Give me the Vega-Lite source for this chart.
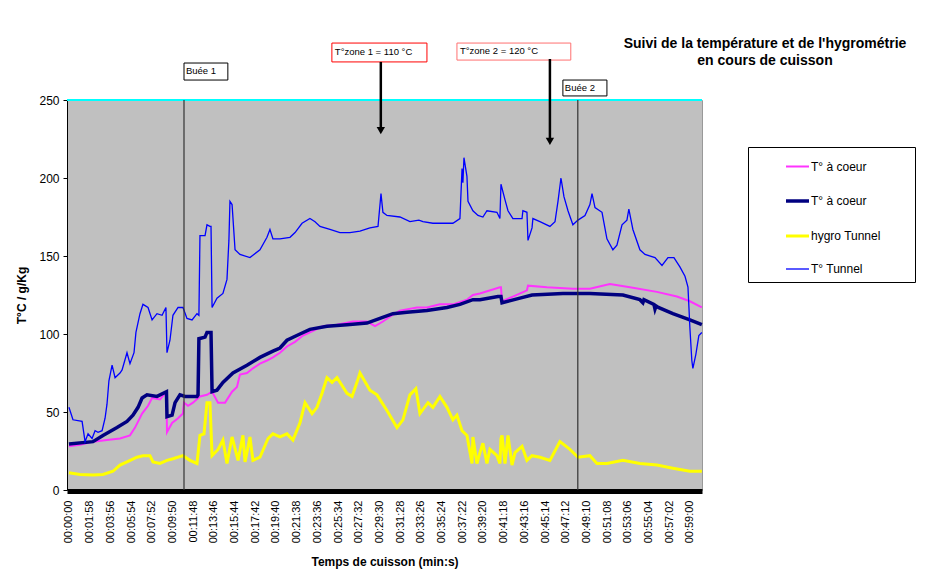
{
  "$schema": "https://vega.github.io/schema/vega-lite/v6.json",
  "width": 635,
  "height": 390,
  "autosize": {"type": "none"},
  "padding": {"left": 67, "top": 100, "right": 230, "bottom": 92},
  "background": "#FFFFFF",
  "title": {
    "text": ["Suivi de la température et de l'hygrométrie", "en cours de cuisson"],
    "anchor": "start",
    "frame": "group",
    "align": "center",
    "dx": 698,
    "dy": 59,
    "offset": 34,
    "fontSize": 14,
    "lineHeight": 17,
    "font": "Liberation Sans",
    "fontWeight": "bold",
    "color": "#000000"
  },
  "datasets": {
    "series": [
      {"t":0,"s":"T° à coeur 1","v":28},{"t":63,"s":"T° à coeur 1","v":29},{"t":137,"s":"T° à coeur 1","v":31},{"t":217,"s":"T° à coeur 1","v":32},{"t":291,"s":"T° à coeur 1","v":33},{"t":348,"s":"T° à coeur 1","v":35},{"t":377,"s":"T° à coeur 1","v":40},{"t":417,"s":"T° à coeur 1","v":49},{"t":451,"s":"T° à coeur 1","v":54},{"t":474,"s":"T° à coeur 1","v":59},{"t":519,"s":"T° à coeur 1","v":58},{"t":548,"s":"T° à coeur 1","v":62},{"t":556,"s":"T° à coeur 1","v":62},{"t":559,"s":"T° à coeur 1","v":37},{"t":588,"s":"T° à coeur 1","v":43},{"t":622,"s":"T° à coeur 1","v":46},{"t":650,"s":"T° à coeur 1","v":49},{"t":656,"s":"T° à coeur 1","v":56},{"t":679,"s":"T° à coeur 1","v":54},{"t":707,"s":"T° à coeur 1","v":56},{"t":747,"s":"T° à coeur 1","v":60},{"t":787,"s":"T° à coeur 1","v":61},{"t":816,"s":"T° à coeur 1","v":63},{"t":850,"s":"T° à coeur 1","v":56},{"t":890,"s":"T° à coeur 1","v":56},{"t":930,"s":"T° à coeur 1","v":63},{"t":958,"s":"T° à coeur 1","v":66},{"t":975,"s":"T° à coeur 1","v":74},{"t":1015,"s":"T° à coeur 1","v":75},{"t":1049,"s":"T° à coeur 1","v":78},{"t":1089,"s":"T° à coeur 1","v":81},{"t":1129,"s":"T° à coeur 1","v":83},{"t":1163,"s":"T° à coeur 1","v":85},{"t":1203,"s":"T° à coeur 1","v":88},{"t":1243,"s":"T° à coeur 1","v":92},{"t":1289,"s":"T° à coeur 1","v":95},{"t":1334,"s":"T° à coeur 1","v":99},{"t":1374,"s":"T° à coeur 1","v":101},{"t":1448,"s":"T° à coeur 1","v":105},{"t":1528,"s":"T° à coeur 1","v":106},{"t":1619,"s":"T° à coeur 1","v":108},{"t":1699,"s":"T° à coeur 1","v":108},{"t":1745,"s":"T° à coeur 1","v":105},{"t":1790,"s":"T° à coeur 1","v":108},{"t":1842,"s":"T° à coeur 1","v":112},{"t":1887,"s":"T° à coeur 1","v":115},{"t":1984,"s":"T° à coeur 1","v":117},{"t":2041,"s":"T° à coeur 1","v":117},{"t":2115,"s":"T° à coeur 1","v":119},{"t":2189,"s":"T° à coeur 1","v":119},{"t":2269,"s":"T° à coeur 1","v":122},{"t":2303,"s":"T° à coeur 1","v":125},{"t":2343,"s":"T° à coeur 1","v":126},{"t":2457,"s":"T° à coeur 1","v":130},{"t":2463,"s":"T° à coeur 1","v":130},{"t":2469,"s":"T° à coeur 1","v":121},{"t":2531,"s":"T° à coeur 1","v":124},{"t":2611,"s":"T° à coeur 1","v":128},{"t":2617,"s":"T° à coeur 1","v":131},{"t":2725,"s":"T° à coeur 1","v":130},{"t":2873,"s":"T° à coeur 1","v":129},{"t":2970,"s":"T° à coeur 1","v":129},{"t":3084,"s":"T° à coeur 1","v":132},{"t":3198,"s":"T° à coeur 1","v":130},{"t":3352,"s":"T° à coeur 1","v":127},{"t":3466,"s":"T° à coeur 1","v":124},{"t":3540,"s":"T° à coeur 1","v":121},{"t":3608,"s":"T° à coeur 1","v":117},

      {"t":0,"s":"T° à coeur 2","v":29.5},{"t":137,"s":"T° à coeur 2","v":31},{"t":194,"s":"T° à coeur 2","v":35},{"t":274,"s":"T° à coeur 2","v":40},{"t":331,"s":"T° à coeur 2","v":44},{"t":365,"s":"T° à coeur 2","v":48},{"t":394,"s":"T° à coeur 2","v":53},{"t":417,"s":"T° à coeur 2","v":59},{"t":445,"s":"T° à coeur 2","v":61},{"t":502,"s":"T° à coeur 2","v":60},{"t":556,"s":"T° à coeur 2","v":63},{"t":559,"s":"T° à coeur 2","v":47},{"t":588,"s":"T° à coeur 2","v":48},{"t":605,"s":"T° à coeur 2","v":56},{"t":633,"s":"T° à coeur 2","v":61},{"t":662,"s":"T° à coeur 2","v":60},{"t":730,"s":"T° à coeur 2","v":60},{"t":736,"s":"T° à coeur 2","v":61},{"t":741,"s":"T° à coeur 2","v":97},{"t":776,"s":"T° à coeur 2","v":98},{"t":787,"s":"T° à coeur 2","v":101},{"t":810,"s":"T° à coeur 2","v":101},{"t":816,"s":"T° à coeur 2","v":63},{"t":844,"s":"T° à coeur 2","v":64},{"t":878,"s":"T° à coeur 2","v":69},{"t":935,"s":"T° à coeur 2","v":75},{"t":1015,"s":"T° à coeur 2","v":80},{"t":1089,"s":"T° à coeur 2","v":85},{"t":1163,"s":"T° à coeur 2","v":89},{"t":1203,"s":"T° à coeur 2","v":91},{"t":1243,"s":"T° à coeur 2","v":96},{"t":1317,"s":"T° à coeur 2","v":100},{"t":1374,"s":"T° à coeur 2","v":103},{"t":1471,"s":"T° à coeur 2","v":105},{"t":1585,"s":"T° à coeur 2","v":106},{"t":1699,"s":"T° à coeur 2","v":107},{"t":1773,"s":"T° à coeur 2","v":110},{"t":1847,"s":"T° à coeur 2","v":113},{"t":1927,"s":"T° à coeur 2","v":114},{"t":2041,"s":"T° à coeur 2","v":115},{"t":2155,"s":"T° à coeur 2","v":117},{"t":2229,"s":"T° à coeur 2","v":119},{"t":2303,"s":"T° à coeur 2","v":122},{"t":2343,"s":"T° à coeur 2","v":122},{"t":2446,"s":"T° à coeur 2","v":124},{"t":2463,"s":"T° à coeur 2","v":124},{"t":2469,"s":"T° à coeur 2","v":120},{"t":2571,"s":"T° à coeur 2","v":123},{"t":2640,"s":"T° à coeur 2","v":125},{"t":2816,"s":"T° à coeur 2","v":126},{"t":2970,"s":"T° à coeur 2","v":126},{"t":3158,"s":"T° à coeur 2","v":125},{"t":3255,"s":"T° à coeur 2","v":122},{"t":3272,"s":"T° à coeur 2","v":120},{"t":3278,"s":"T° à coeur 2","v":122},{"t":3335,"s":"T° à coeur 2","v":119},{"t":3341,"s":"T° à coeur 2","v":116},{"t":3347,"s":"T° à coeur 2","v":118},{"t":3360,"s":"T° à coeur 2","v":117},{"t":3443,"s":"T° à coeur 2","v":113},{"t":3540,"s":"T° à coeur 2","v":109},{"t":3608,"s":"T° à coeur 2","v":106},

      {"t":0,"s":"hygro Tunnel","v":11},{"t":63,"s":"hygro Tunnel","v":10},{"t":137,"s":"hygro Tunnel","v":9.6},{"t":194,"s":"hygro Tunnel","v":10},{"t":251,"s":"hygro Tunnel","v":12},{"t":291,"s":"hygro Tunnel","v":16},{"t":331,"s":"hygro Tunnel","v":18},{"t":388,"s":"hygro Tunnel","v":21},{"t":422,"s":"hygro Tunnel","v":22},{"t":462,"s":"hygro Tunnel","v":22},{"t":479,"s":"hygro Tunnel","v":18},{"t":519,"s":"hygro Tunnel","v":17},{"t":559,"s":"hygro Tunnel","v":19},{"t":593,"s":"hygro Tunnel","v":20},{"t":650,"s":"hygro Tunnel","v":22},{"t":690,"s":"hygro Tunnel","v":19},{"t":730,"s":"hygro Tunnel","v":17},{"t":747,"s":"hygro Tunnel","v":35},{"t":770,"s":"hygro Tunnel","v":36},{"t":787,"s":"hygro Tunnel","v":56},{"t":804,"s":"hygro Tunnel","v":56},{"t":816,"s":"hygro Tunnel","v":22},{"t":850,"s":"hygro Tunnel","v":26},{"t":878,"s":"hygro Tunnel","v":32},{"t":901,"s":"hygro Tunnel","v":17},{"t":930,"s":"hygro Tunnel","v":34},{"t":964,"s":"hygro Tunnel","v":19},{"t":992,"s":"hygro Tunnel","v":35},{"t":1004,"s":"hygro Tunnel","v":18},{"t":1032,"s":"hygro Tunnel","v":34},{"t":1049,"s":"hygro Tunnel","v":19},{"t":1089,"s":"hygro Tunnel","v":21},{"t":1135,"s":"hygro Tunnel","v":33},{"t":1163,"s":"hygro Tunnel","v":36},{"t":1203,"s":"hygro Tunnel","v":34},{"t":1243,"s":"hygro Tunnel","v":36},{"t":1277,"s":"hygro Tunnel","v":32},{"t":1317,"s":"hygro Tunnel","v":43},{"t":1346,"s":"hygro Tunnel","v":56},{"t":1386,"s":"hygro Tunnel","v":49},{"t":1414,"s":"hygro Tunnel","v":53},{"t":1443,"s":"hygro Tunnel","v":62},{"t":1471,"s":"hygro Tunnel","v":72},{"t":1500,"s":"hygro Tunnel","v":69},{"t":1528,"s":"hygro Tunnel","v":72},{"t":1557,"s":"hygro Tunnel","v":67},{"t":1585,"s":"hygro Tunnel","v":62},{"t":1614,"s":"hygro Tunnel","v":60},{"t":1642,"s":"hygro Tunnel","v":69},{"t":1659,"s":"hygro Tunnel","v":75},{"t":1716,"s":"hygro Tunnel","v":64},{"t":1756,"s":"hygro Tunnel","v":61},{"t":1813,"s":"hygro Tunnel","v":51},{"t":1870,"s":"hygro Tunnel","v":40},{"t":1904,"s":"hygro Tunnel","v":45},{"t":1944,"s":"hygro Tunnel","v":61},{"t":1978,"s":"hygro Tunnel","v":65},{"t":2001,"s":"hygro Tunnel","v":49},{"t":2047,"s":"hygro Tunnel","v":56},{"t":2075,"s":"hygro Tunnel","v":53},{"t":2115,"s":"hygro Tunnel","v":60},{"t":2155,"s":"hygro Tunnel","v":53},{"t":2189,"s":"hygro Tunnel","v":45},{"t":2212,"s":"hygro Tunnel","v":48},{"t":2241,"s":"hygro Tunnel","v":38},{"t":2269,"s":"hygro Tunnel","v":35},{"t":2298,"s":"hygro Tunnel","v":17},{"t":2303,"s":"hygro Tunnel","v":34},{"t":2326,"s":"hygro Tunnel","v":17},{"t":2343,"s":"hygro Tunnel","v":24},{"t":2360,"s":"hygro Tunnel","v":30},{"t":2383,"s":"hygro Tunnel","v":17},{"t":2400,"s":"hygro Tunnel","v":26},{"t":2440,"s":"hygro Tunnel","v":22},{"t":2457,"s":"hygro Tunnel","v":17},{"t":2463,"s":"hygro Tunnel","v":33},{"t":2469,"s":"hygro Tunnel","v":35},{"t":2486,"s":"hygro Tunnel","v":17},{"t":2503,"s":"hygro Tunnel","v":35},{"t":2526,"s":"hygro Tunnel","v":16},{"t":2543,"s":"hygro Tunnel","v":24},{"t":2583,"s":"hygro Tunnel","v":28},{"t":2611,"s":"hygro Tunnel","v":19},{"t":2640,"s":"hygro Tunnel","v":22},{"t":2685,"s":"hygro Tunnel","v":21},{"t":2742,"s":"hygro Tunnel","v":19},{"t":2799,"s":"hygro Tunnel","v":31},{"t":2856,"s":"hygro Tunnel","v":26},{"t":2902,"s":"hygro Tunnel","v":21},{"t":2970,"s":"hygro Tunnel","v":22},{"t":3010,"s":"hygro Tunnel","v":17},{"t":3067,"s":"hygro Tunnel","v":17},{"t":3158,"s":"hygro Tunnel","v":19},{"t":3255,"s":"hygro Tunnel","v":17},{"t":3352,"s":"hygro Tunnel","v":16},{"t":3443,"s":"hygro Tunnel","v":14},{"t":3540,"s":"hygro Tunnel","v":12},{"t":3608,"s":"hygro Tunnel","v":12},

      {"t":0,"s":"T° Tunnel","v":53},{"t":23,"s":"T° Tunnel","v":45},{"t":75,"s":"T° Tunnel","v":44},{"t":92,"s":"T° Tunnel","v":31},{"t":109,"s":"T° Tunnel","v":36},{"t":132,"s":"T° Tunnel","v":33},{"t":149,"s":"T° Tunnel","v":38},{"t":166,"s":"T° Tunnel","v":37},{"t":189,"s":"T° Tunnel","v":38},{"t":206,"s":"T° Tunnel","v":46},{"t":217,"s":"T° Tunnel","v":55},{"t":228,"s":"T° Tunnel","v":70},{"t":246,"s":"T° Tunnel","v":80},{"t":263,"s":"T° Tunnel","v":72},{"t":291,"s":"T° Tunnel","v":75},{"t":303,"s":"T° Tunnel","v":77},{"t":331,"s":"T° Tunnel","v":88},{"t":348,"s":"T° Tunnel","v":81},{"t":371,"s":"T° Tunnel","v":88},{"t":382,"s":"T° Tunnel","v":101},{"t":405,"s":"T° Tunnel","v":113},{"t":422,"s":"T° Tunnel","v":119},{"t":451,"s":"T° Tunnel","v":117},{"t":474,"s":"T° Tunnel","v":109},{"t":502,"s":"T° Tunnel","v":113},{"t":531,"s":"T° Tunnel","v":112},{"t":553,"s":"T° Tunnel","v":117},{"t":559,"s":"T° Tunnel","v":88},{"t":576,"s":"T° Tunnel","v":96},{"t":593,"s":"T° Tunnel","v":112},{"t":622,"s":"T° Tunnel","v":117},{"t":650,"s":"T° Tunnel","v":117},{"t":673,"s":"T° Tunnel","v":110},{"t":702,"s":"T° Tunnel","v":109},{"t":730,"s":"T° Tunnel","v":113},{"t":741,"s":"T° Tunnel","v":112},{"t":747,"s":"T° Tunnel","v":163},{"t":776,"s":"T° Tunnel","v":163},{"t":787,"s":"T° Tunnel","v":170},{"t":804,"s":"T° Tunnel","v":169},{"t":810,"s":"T° Tunnel","v":169},{"t":816,"s":"T° Tunnel","v":117},{"t":844,"s":"T° Tunnel","v":123},{"t":878,"s":"T° Tunnel","v":126},{"t":901,"s":"T° Tunnel","v":135},{"t":912,"s":"T° Tunnel","v":160},{"t":918,"s":"T° Tunnel","v":185},{"t":930,"s":"T° Tunnel","v":183},{"t":947,"s":"T° Tunnel","v":154},{"t":975,"s":"T° Tunnel","v":151},{"t":1032,"s":"T° Tunnel","v":149},{"t":1089,"s":"T° Tunnel","v":154},{"t":1129,"s":"T° Tunnel","v":162},{"t":1146,"s":"T° Tunnel","v":167},{"t":1163,"s":"T° Tunnel","v":161},{"t":1203,"s":"T° Tunnel","v":161},{"t":1260,"s":"T° Tunnel","v":162},{"t":1289,"s":"T° Tunnel","v":165},{"t":1329,"s":"T° Tunnel","v":171},{"t":1374,"s":"T° Tunnel","v":174},{"t":1403,"s":"T° Tunnel","v":172},{"t":1431,"s":"T° Tunnel","v":169},{"t":1488,"s":"T° Tunnel","v":167},{"t":1545,"s":"T° Tunnel","v":165},{"t":1602,"s":"T° Tunnel","v":165},{"t":1659,"s":"T° Tunnel","v":166},{"t":1716,"s":"T° Tunnel","v":168},{"t":1762,"s":"T° Tunnel","v":169},{"t":1779,"s":"T° Tunnel","v":190},{"t":1790,"s":"T° Tunnel","v":178},{"t":1813,"s":"T° Tunnel","v":176},{"t":1887,"s":"T° Tunnel","v":175},{"t":1944,"s":"T° Tunnel","v":172},{"t":1995,"s":"T° Tunnel","v":173},{"t":2018,"s":"T° Tunnel","v":172},{"t":2075,"s":"T° Tunnel","v":171},{"t":2189,"s":"T° Tunnel","v":171},{"t":2229,"s":"T° Tunnel","v":174},{"t":2241,"s":"T° Tunnel","v":206},{"t":2246,"s":"T° Tunnel","v":197},{"t":2252,"s":"T° Tunnel","v":213},{"t":2269,"s":"T° Tunnel","v":201},{"t":2275,"s":"T° Tunnel","v":185},{"t":2303,"s":"T° Tunnel","v":179},{"t":2332,"s":"T° Tunnel","v":176},{"t":2360,"s":"T° Tunnel","v":175},{"t":2383,"s":"T° Tunnel","v":179},{"t":2440,"s":"T° Tunnel","v":178},{"t":2457,"s":"T° Tunnel","v":174},{"t":2463,"s":"T° Tunnel","v":196},{"t":2486,"s":"T° Tunnel","v":186},{"t":2503,"s":"T° Tunnel","v":179},{"t":2531,"s":"T° Tunnel","v":174},{"t":2583,"s":"T° Tunnel","v":174},{"t":2588,"s":"T° Tunnel","v":179},{"t":2611,"s":"T° Tunnel","v":178},{"t":2617,"s":"T° Tunnel","v":160},{"t":2640,"s":"T° Tunnel","v":168},{"t":2645,"s":"T° Tunnel","v":174},{"t":2685,"s":"T° Tunnel","v":172},{"t":2742,"s":"T° Tunnel","v":169},{"t":2771,"s":"T° Tunnel","v":172},{"t":2788,"s":"T° Tunnel","v":185},{"t":2805,"s":"T° Tunnel","v":200},{"t":2822,"s":"T° Tunnel","v":188},{"t":2845,"s":"T° Tunnel","v":179},{"t":2873,"s":"T° Tunnel","v":170},{"t":2902,"s":"T° Tunnel","v":173},{"t":2942,"s":"T° Tunnel","v":176},{"t":2970,"s":"T° Tunnel","v":183},{"t":2982,"s":"T° Tunnel","v":190},{"t":2999,"s":"T° Tunnel","v":181},{"t":3039,"s":"T° Tunnel","v":178},{"t":3067,"s":"T° Tunnel","v":161},{"t":3101,"s":"T° Tunnel","v":154},{"t":3124,"s":"T° Tunnel","v":157},{"t":3153,"s":"T° Tunnel","v":170},{"t":3181,"s":"T° Tunnel","v":173},{"t":3192,"s":"T° Tunnel","v":180},{"t":3215,"s":"T° Tunnel","v":167},{"t":3255,"s":"T° Tunnel","v":154},{"t":3284,"s":"T° Tunnel","v":151},{"t":3341,"s":"T° Tunnel","v":149},{"t":3381,"s":"T° Tunnel","v":144},{"t":3415,"s":"T° Tunnel","v":149},{"t":3449,"s":"T° Tunnel","v":149},{"t":3483,"s":"T° Tunnel","v":143},{"t":3512,"s":"T° Tunnel","v":137},{"t":3529,"s":"T° Tunnel","v":130},{"t":3540,"s":"T° Tunnel","v":104},{"t":3551,"s":"T° Tunnel","v":83},{"t":3557,"s":"T° Tunnel","v":78},{"t":3574,"s":"T° Tunnel","v":87},{"t":3591,"s":"T° Tunnel","v":99},{"t":3608,"s":"T° Tunnel","v":101}
    ],
    "events": [
      {"t": 656, "label": "Buée 1"},
      {"t": 2901, "label": "Buée 2"}
    ],
    "boxes": [
      {"kind": "buee", "label": "Buée 1", "x1": 656, "x2": 906, "y1": 273.7, "y2": 262.8, "lx": 667, "ly": 268.3},
      {"kind": "zone1", "label": "T°zone 1 = 110 °C", "x1": 1499, "x2": 2041, "y1": 286.5, "y2": 274.4, "lx": 1516, "ly": 280.8},
      {"kind": "zone2", "label": "T°zone 2 = 120 °C", "x1": 2212, "x2": 2861, "y1": 286.5, "y2": 275.6, "lx": 2229, "ly": 281.4},
      {"kind": "buee", "label": "Buée 2", "x1": 2816, "x2": 3067, "y1": 262.8, "y2": 252.6, "lx": 2827, "ly": 257.7}
    ],
    "arrows": [
      {"t": 1778, "y1": 274.4, "y2": 232.5, "tip": 230.3},
      {"t": 2742, "y1": 276.3, "y2": 225.5, "tip": 223.5}
    ]
  },
  "layer": [
    {
      "data": {"name": "series"},
      "mark": {"type": "line", "interpolate": "linear"},
      "encoding": {
        "x": {
          "field": "t", "type": "quantitative",
          "scale": {"domain": [-11, 3609], "nice": false, "zero": false},
          "axis": {
            "values": [0,118,236,354,472,590,708,826,944,1062,1180,1298,1416,1534,1652,1770,1888,2006,2124,2242,2360,2478,2596,2714,2832,2950,3068,3186,3304,3422,3540],
            "tickCount": 100,
            "labelExpr": "timeFormat(datetime(2000,0,1,0,0,datum.value),'%H:%M:%S')",
            "labelAngle": -90,
            "labelFontSize": 11,
            "labelColor": "#000000",
            "labelOverlap": false,
            "labelFlush": false,
            "labelBound": false,
            "labelPadding": 9,
            "ticks": false,
            "grid": false,
            "domainWidth": 5,
            "domainColor": "#000000",
            "offset": 1,
            "title": "Temps de cuisson (min:s)",
            "titleFontSize": 12,
            "titleFontWeight": "bold",
            "titleColor": "#000000",
            "titlePadding": 14
          }
        },
        "y": {
          "field": "v", "type": "quantitative",
          "scale": {"domain": [0, 250], "nice": false},
          "axis": {
            "values": [0, 50, 100, 150, 200, 250],
            "labelFontSize": 12,
            "labelColor": "#000000",
            "labelPadding": 4,
            "tickSize": 4,
            "tickColor": "#000000",
            "domainColor": "#000000",
            "grid": false,
            "title": "T°C / g/Kg",
            "titleFontSize": 12,
            "titleFontWeight": "bold",
            "titleColor": "#000000",
            "titlePadding": 10
          }
        },
        "color": {
          "field": "s", "type": "nominal",
          "scale": {
            "domain": ["T° à coeur 1", "T° à coeur 2", "hygro Tunnel", "T° Tunnel"],
            "range": ["#FF33FF", "#000080", "#FFFF00", "#0000FF"]
          },
          "legend": {
            "orient": "none",
            "legendX": 681,
            "legendY": 47,
            "title": null,
            "symbolType": "stroke",
            "symbolSize": 529,
            "labelFontSize": 12,
            "labelColor": "#000000",
            "labelLimit": 400,
            "padding": 7,
            "rowPadding": 14.5,
            "strokeColor": "#000000",
            "fillColor": "#FFFFFF",
            "symbolOffset": 29,
            "labelOffset": 0,
            "labelExpr": "datum.label == 'hygro Tunnel' ? 'hygro Tunnel\u00a0\u00a0\u00a0\u00a0\u00a0\u00a0\u00a0\u00a0\u200b' : (indexof(datum.label, 'coeur') >= 0 ? 'T° à coeur' : datum.label)"
          }
        },
        "strokeWidth": {
          "field": "s", "type": "nominal",
          "scale": {
            "type": "ordinal",
            "domain": ["T° à coeur 1", "T° à coeur 2", "hygro Tunnel", "T° Tunnel"],
            "range": [2, 3.5, 3, 1.3]
          }
        }
      }
    },
    {
      "data": {"values": [{}]},
      "mark": {"type": "rule", "color": "#00FFFF", "strokeWidth": 2},
      "encoding": {"y": {"datum": 250}}
    },
    {
      "data": {"name": "events"},
      "mark": {"type": "rule", "color": "#333333", "strokeWidth": 1.2},
      "encoding": {"x": {"field": "t", "type": "quantitative"}}
    },
    {
      "data": {"name": "boxes"},
      "mark": {"type": "rect", "fill": "#FFFFFF", "strokeWidth": 1, "clip": false},
      "encoding": {
        "x": {"field": "x1", "type": "quantitative"},
        "x2": {"field": "x2"},
        "y": {"field": "y1", "type": "quantitative"},
        "y2": {"field": "y2"},
        "stroke": {
          "field": "kind", "type": "nominal",
          "scale": {"domain": ["buee", "zone1", "zone2"], "range": ["#000000", "#FF0000", "#FF7070"]},
          "legend": null
        }
      }
    },
    {
      "data": {"name": "boxes"},
      "mark": {"type": "text", "align": "left", "baseline": "middle", "fontSize": 9.5, "color": "#000000", "clip": false},
      "encoding": {
        "x": {"field": "lx", "type": "quantitative"},
        "y": {"field": "ly", "type": "quantitative"},
        "text": {"field": "label"}
      }
    },
    {
      "data": {"name": "arrows"},
      "mark": {"type": "rule", "color": "#000000", "strokeWidth": 2.5, "clip": false},
      "encoding": {
        "x": {"field": "t", "type": "quantitative"},
        "y": {"field": "y1", "type": "quantitative"},
        "y2": {"field": "y2"}
      }
    },
    {
      "data": {"name": "arrows"},
      "mark": {"type": "point", "shape": "triangle-down", "filled": true, "color": "#000000", "size": 70, "opacity": 1, "clip": false},
      "encoding": {
        "x": {"field": "t", "type": "quantitative"},
        "y": {"field": "tip", "type": "quantitative"}
      }
    }
  ],
  "config": {
    "font": "Liberation Sans",
    "view": {"fill": "#C0C0C0", "stroke": "#999999", "strokeWidth": 1},
    "axis": {"labelFont": "Liberation Sans", "titleFont": "Liberation Sans"},
    "legend": {"labelFont": "Liberation Sans"}
  }
}
